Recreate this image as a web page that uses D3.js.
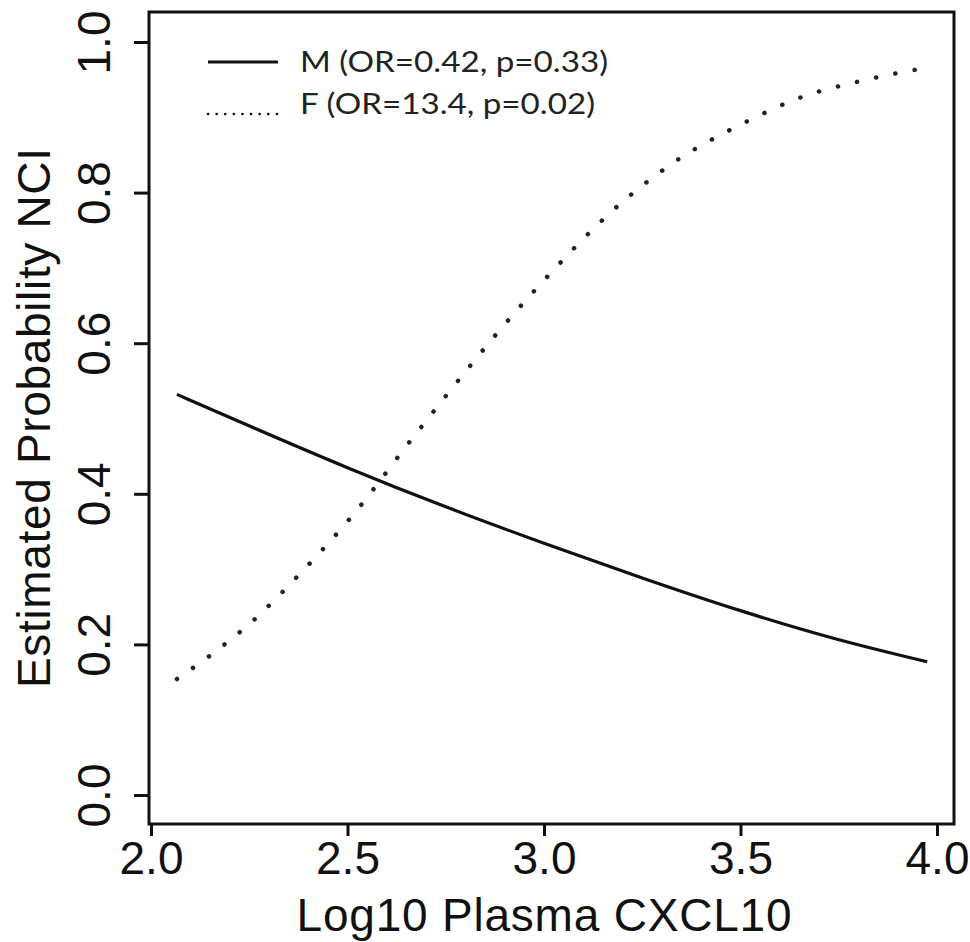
<!DOCTYPE html>
<html lang="en">
<head>
<meta charset="UTF-8">
<title>Estimated Probability NCI</title>
<style>
    body { margin: 0; background: #fff; }
    .tick text { font-family: "Liberation Sans", Arial, sans-serif; font-size: 46px; fill: #111; }
    .axis-title { font-family: "Liberation Sans", Arial, sans-serif; font-size: 46px; fill: #111; }
    .legend text { font-family: Lato, "Open Sans", sans-serif; font-size: 29px; fill: #222; }
</style>
</head>
<body>
<svg id="chart" width="970" height="942"></svg>
<script src="https://d3js.org/d3.v7.min.js"></script>
<script>
// values
const xTicks = [2.0, 2.5, 3.0, 3.5, 4.0];
const yTicks = [0.0, 0.2, 0.4, 0.6, 0.8, 1.0];

// M (solid)
const mX = [2.066, 2.25, 2.5, 2.75, 3.0, 3.25, 3.5, 3.75, 3.975];
const mY = [0.532, 0.49, 0.434, 0.382, 0.334, 0.288, 0.244, 0.205, 0.177];

// F (dotted)
const fX = [2.066, 2.142, 2.265, 2.374, 2.514, 2.667, 2.964, 3.214, 3.333, 3.511, 3.651, 3.804, 3.975];
const fY = [0.154, 0.182, 0.234, 0.291, 0.372, 0.475, 0.663, 0.794, 0.841, 0.893, 0.926, 0.948, 0.966];

const legendLabels = ["M (OR=0.42, p=0.33)", "F (OR=13.4, p=0.02)"];

const svg = d3.select("#chart");

// plot box
const box = { left: 149, top: 12, right: 954, bottom: 824 };

const x = d3.scaleLinear().domain([2, 4]).range([box.left + 2, box.right - 17]);
const y = d3.scaleLinear().domain([0, 1]).range([box.bottom - 29, box.top + 30]);

// frame
svg.append("rect")
    .attr("x", box.left)
    .attr("y", box.top)
    .attr("width", box.right - box.left)
    .attr("height", box.bottom - box.top)
    .attr("fill", "none")
    .attr("stroke", "#111")
    .attr("stroke-width", 3);

// x axis
const xAxis = svg.append("g")
    .attr("transform", `translate(0,${box.bottom})`)
    .call(d3.axisBottom(x).tickValues(xTicks).tickFormat(d3.format(".1f")).tickSize(12));
xAxis.select(".domain").remove();
xAxis.selectAll(".tick line").attr("stroke", "#111").attr("stroke-width", 3);
xAxis.selectAll(".tick text").attr("dy", null).attr("y", 50);

// y axis, labels turned like R's default
const yAxis = svg.append("g")
    .attr("transform", `translate(${box.left},0)`)
    .call(d3.axisLeft(y).tickValues(yTicks).tickFormat(d3.format(".1f")).tickSize(15));
yAxis.select(".domain").remove();
yAxis.selectAll(".tick line").attr("stroke", "#111").attr("stroke-width", 3);
yAxis.selectAll(".tick text")
    .attr("x", null).attr("dy", null)
    .attr("text-anchor", "middle")
    .attr("transform", "translate(-39,0) rotate(-90)");

// axis titles
svg.append("text")
    .attr("class", "axis-title")
    .attr("x", (x(2) + x(4)) / 2)
    .attr("y", 931)
    .attr("text-anchor", "middle")
    .attr("textLength", 495)
    .attr("lengthAdjust", "spacing")
    .text("Log10 Plasma CXCL10");

svg.append("text")
    .attr("class", "axis-title")
    .attr("transform", `translate(50,${(box.top + box.bottom) / 2}) rotate(-90)`)
    .attr("text-anchor", "middle")
    .attr("textLength", 540)
    .attr("lengthAdjust", "spacing")
    .text("Estimated Probability NCI");

// curves
const lineM = d3.line()
    .x(d => x(d[0]))
    .y(d => y(d[1]))
    .curve(d3.curveBasis);

const lineF = d3.line()
    .x(d => x(d[0]))
    .y(d => y(d[1]))
    .curve(d3.curveMonotoneX);

svg.append("path")
    .datum(d3.zip(mX, mY))
    .attr("d", lineM)
    .attr("fill", "none")
    .attr("stroke", "#111")
    .attr("stroke-width", 3.2);

svg.append("path")
    .datum(d3.zip(fX, fY))
    .attr("d", lineF)
    .attr("fill", "none")
    .attr("stroke", "#222")
    .attr("stroke-width", 4.5)
    .attr("stroke-linecap", "round")
    .attr("stroke-dasharray", "0.1 19.5");

// legend
const legend = svg.append("g").attr("class", "legend");
legendLabels.forEach((lab, i) => {
    const ly = 62 + i * 42;
    legend.append("line")
        .attr("x1", 208).attr("x2", 278)
        .attr("y1", ly + (i ? 10 : 0)).attr("y2", ly + (i ? 10 : 0))
        .attr("stroke", "#111")
        .attr("stroke-width", i ? 2.6 : 3)
        .attr("stroke-linecap", i ? "round" : "butt")
        .attr("stroke-dasharray", i ? "0.1 8.5" : null);
    legend.append("text")
        .attr("x", 300)
        .attr("y", ly + 10)
        .attr("textLength", i ? 295 : 308)
        .attr("lengthAdjust", "spacingAndGlyphs")
        .text(lab);
});
</script>
</body>
</html>
